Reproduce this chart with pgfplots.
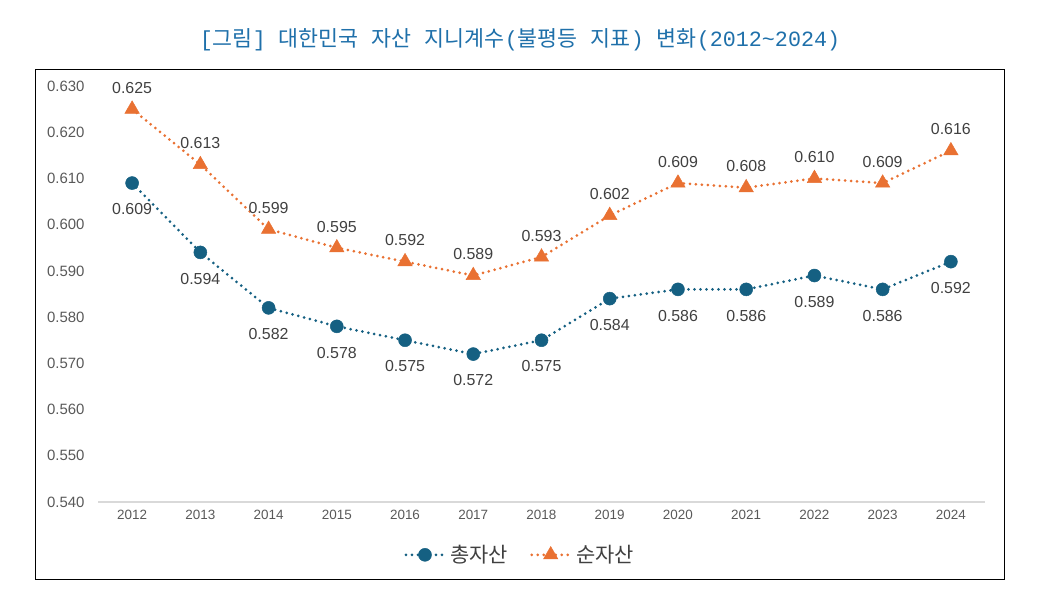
\documentclass[border=0pt]{standalone}
\usepackage{fontspec}
\setmainfont{Liberation Sans}
\newfontfamily\kr{Noto Sans CJK KR}
\newfontfamily\tm{Liberation Mono}
\usepackage{pgfplots}
\pgfplotsset{compat=1.18}

\definecolor{totalc}{HTML}{156082}
\definecolor{netc}{HTML}{E97132}
\definecolor{titlec}{HTML}{1F70AA}
\definecolor{labelc}{HTML}{404040}
\definecolor{tickc}{HTML}{595959}
\definecolor{basec}{HTML}{D9D9D9}

\begin{document}
\begin{tikzpicture}
\path[use as bounding box] (0,0) rectangle (1041bp,606bp);
\draw[black, line width=1bp] (35bp,26bp) rectangle (1004bp,536bp);
% title: Hangul in the CJK face, Latin and punctuation in a fixed-width face
\node[titlec, font=\tm\fontsize{21.8}{26}\selectfont, inner sep=0pt] at (520bp,566bp)
  {[{\kr 그림}] {\kr 대한민국} {\kr 자산} {\kr 지니계수}({\kr 불평등} {\kr 지표}) {\kr 변화}(2012\textasciitilde2024)};
\begin{axis}[
  at={(98bp,104bp)}, anchor=south west,
  scale only axis, width=887bp, height=416bp,
  xmin=2011.5, xmax=2024.5, ymin=0.540, ymax=0.630,
  xtick={2012,...,2024}, ytick distance=0.01,
  major tick length=0pt,
  axis x line*=bottom, axis y line*=left,
  x axis line style={draw=basec, line width=1.2bp, -},
  y axis line style={draw=none, -},
  /pgf/number format/assume math mode=true,
  xticklabel style={font=\fontsize{13.5}{16}\selectfont, text=tickc, yshift=-5bp,
    /pgf/number format/1000 sep={}},
  yticklabel style={font=\fontsize{15}{18}\selectfont, text=tickc, xshift=-10bp,
    /pgf/number format/fixed, /pgf/number format/fixed zerofill,
    /pgf/number format/precision=3},
  clip=false,
  every node near coord/.append style={font=\fontsize{16}{19}\selectfont, text=labelc},
  nodes near coords={\pgfmathprintnumber[fixed,fixed zerofill,precision=3,assume math mode=true]{\pgfplotspointmeta}},
  legend image code/.code={
    \draw[mark repeat=2, mark phase=2, #1] plot coordinates {(0bp,0bp) (19bp,0bp) (38bp,0bp)};
  },
  legend columns=2,
  legend style={at={(0.476,-0.127)}, anchor=center, draw=none, fill=none,
    font=\kr\fontsize{21}{25}\selectfont, text=labelc,
    /tikz/every odd column/.append style={column sep=3bp},
    /tikz/every even column/.append style={column sep=20bp}},
]
% total assets
\addplot[totalc, line width=3bp, line cap=round, dash pattern=on 0pt off 6bp,
  mark=*, mark size=6.5bp, mark options={solid, fill=totalc, draw=totalc, line width=0.5bp},
  nodes near coords align={below}, every node near coord/.append style={yshift=-17bp}]
  coordinates {
  (2012,0.609) (2013,0.594) (2014,0.582) (2015,0.578) (2016,0.575)
  (2017,0.572) (2018,0.575) (2019,0.584) (2020,0.586) (2021,0.586)
  (2022,0.589) (2023,0.586) (2024,0.592)};
\addlegendentry{총자산}
% net assets
\addplot[netc, line width=3bp, line cap=round, dash pattern=on 0pt off 6bp,
  mark=triangle*, mark size=8.3bp, mark options={solid, fill=netc, draw=netc, line width=0.5bp},
  nodes near coords align={above}, every node near coord/.append style={yshift=12bp}]
  coordinates {
  (2012,0.625) (2013,0.613) (2014,0.599) (2015,0.595) (2016,0.592)
  (2017,0.589) (2018,0.593) (2019,0.602) (2020,0.609) (2021,0.608)
  (2022,0.610) (2023,0.609) (2024,0.616)};
\addlegendentry{순자산}
\end{axis}
\end{tikzpicture}
\end{document}
